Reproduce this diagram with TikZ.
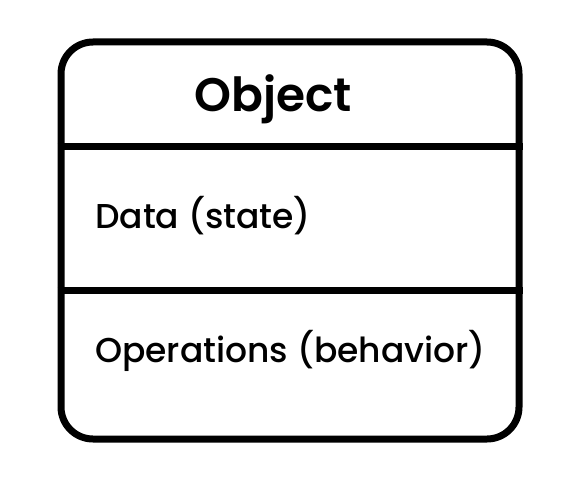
\documentclass[tikz,border=0pt]{standalone}
\usepackage{fontspec}
\setmainfont{Poppins}
\newfontfamily\popmed{Poppins}[UprightFont={* Medium}]
\newfontfamily\popsemi{Poppins}[UprightFont={* SemiBold}]
\usetikzlibrary{positioning}

\begin{document}
\begin{tikzpicture}[
  x=1pt, y=-1pt,
  classbox/.style={draw, rounded corners=32pt, line width=7pt, minimum width=458pt, minimum height=397pt, inner sep=0pt},
  rule/.style={line width=7pt},
  title/.style={font=\popsemi\fontsize{47}{50}\selectfont, anchor=base, inner sep=0pt},
  member/.style={font=\popmed\fontsize{34.5}{38}\selectfont, anchor=base west, inner sep=0pt}
]
  \useasboundingbox (0,0) rectangle (569,494);
  \node[classbox] (obj) at (290,240.5) {};
  \coordinate (div1) at (0,147);
  \coordinate (div2) at (0,290);
  \draw[rule] (obj.west |- div1) -- (obj.east |- div1);
  \draw[rule] (obj.west |- div2) -- (obj.east |- div2);

  \node[title] (name) at (273,112) {Object};
  \node[member] (data) at (95,228) {Data (state)};
  \node[member] (ops) at (95,362) {Operations (behavior)};
\end{tikzpicture}
\end{document}
